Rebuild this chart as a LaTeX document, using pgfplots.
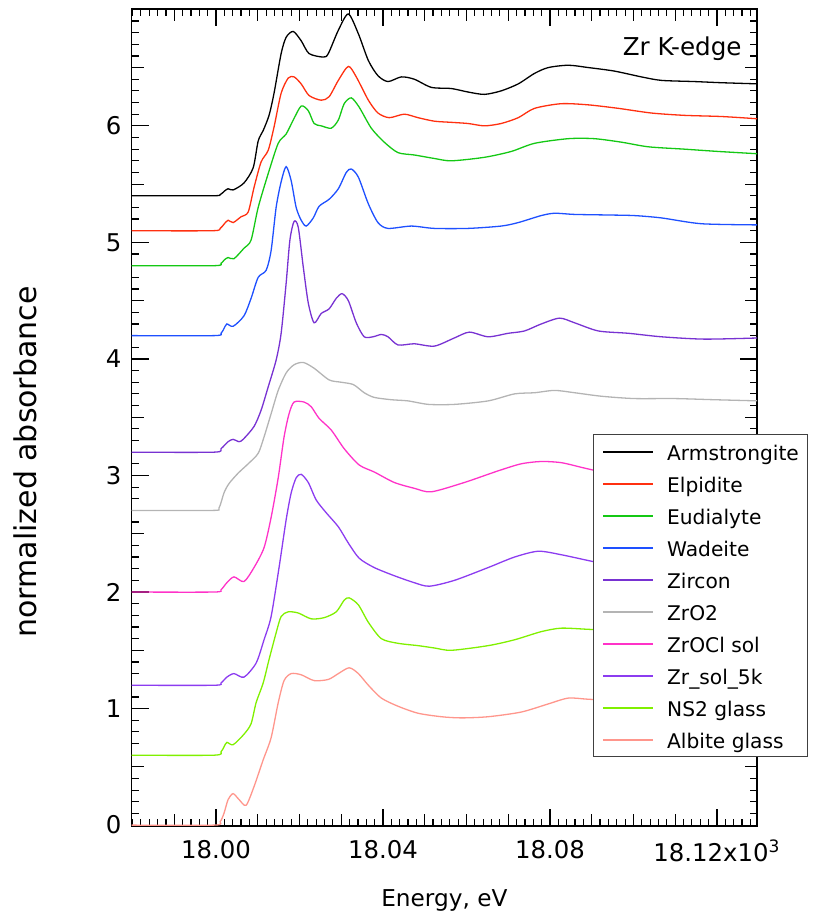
\documentclass[border=0pt]{standalone}
\usepackage{pgfplots}
\pgfplotsset{compat=1.18}
\usepackage{fontspec}
\setmainfont{DejaVu Sans}
\definecolor{celp}{RGB}{255,48,16}
\definecolor{ceud}{RGB}{20,200,20}
\definecolor{cwad}{RGB}{30,80,255}
\definecolor{czir}{RGB}{120,50,210}
\definecolor{czro}{RGB}{180,180,180}
\definecolor{czrocl}{RGB}{255,50,200}
\definecolor{czrsol}{RGB}{140,60,240}
\definecolor{cns}{RGB}{128,240,0}
\definecolor{calb}{RGB}{255,150,140}
\begin{document}
\begin{tikzpicture}
\begin{axis}[
  scale only axis, width=312.65pt, height=408.2pt,
  xmin=17.9798, xmax=18.1296, ymin=-0.005, ymax=7.0,
  /pgf/number format/assume math mode=true,
  tick align=inside, xtick pos=both, ytick pos=both,
  major tick length=8.5pt, minor tick length=3.5pt,
  tick style={black, line width=0.6pt},
  axis line style={black, line width=0.8pt},
  xtick={18.00,18.04,18.08,18.12},
  xticklabels={18.00,18.04,18.08,{18.12x10\textsuperscript{3}}},
  minor xtick={17.98,17.982,...,18.13},
  extra x ticks={17.99,18.01,18.02,18.03,18.05,18.06,18.07,18.09,18.10,18.11},
  extra x tick labels={},
  extra x tick style={major tick length=6pt},
  ytick={0,1,2,3,4,5,6},
  yticklabels={0,1,2,3,4,5,6},
  minor ytick={0,0.1,...,7},
  extra y ticks={0.5,1.5,2.5,3.5,4.5,5.5,6.5},
  extra y tick labels={},
  extra y tick style={major tick length=6pt},
  ticklabel style={font=\fontsize{12.2}{14}\selectfont},
  xticklabel style={inner sep=0pt, anchor=north, yshift=-7pt},
  yticklabel style={inner sep=0pt, anchor=east, xshift=-5pt},
  xlabel={Energy, eV},
  ylabel={normalized absorbance},
  xlabel style={font=\fontsize{11.6}{14}\selectfont, at={(rel axis cs:0.5,-0.091)}, anchor=center},
  ylabel style={font=\fontsize{15}{17}\selectfont, at={(rel axis cs:-0.1706,0.4455)}, anchor=center, rotate=0},
  every axis plot/.append style={line width=0.65pt, smooth, tension=0.45},
  legend cell align=left,
  legend style={at={(rel axis cs:0.737,0.4798)}, anchor=north west, fill=white,
    draw=black!75, line width=0.6pt, font=\fontsize{10.1}{12}\selectfont,
    inner xsep=4.5pt, inner ysep=1.5pt, row sep=2pt,
    nodes={inner sep=0pt, text height=11.5pt, text depth=2.5pt},
    /tikz/every odd column/.append style={column sep=6.5pt}},
  legend image code/.code={\draw[#1, line width=1pt] (0pt,0pt) -- (25pt,0pt);},
]
% Armstrongite
\addplot[black] coordinates {
(17.9796,5.40) (17.9990,5.40) (18.0010,5.41) (18.0020,5.44) (18.0029,5.46) (18.0041,5.45)
(18.0067,5.51) (18.0089,5.64) (18.0101,5.87) (18.0113,5.96) (18.0127,6.09) (18.0139,6.28)
(18.0156,6.62) (18.0168,6.76) (18.0185,6.81) (18.0204,6.73) (18.0223,6.62) (18.0257,6.59)
(18.0269,6.62) (18.0293,6.82) (18.0317,6.96) (18.0341,6.79) (18.0365,6.56) (18.0388,6.43)
(18.0412,6.38) (18.0444,6.42) (18.0475,6.40) (18.0516,6.33) (18.0564,6.32) (18.0604,6.29)
(18.0643,6.27) (18.0683,6.30) (18.0724,6.36) (18.0763,6.45) (18.0796,6.50) (18.0844,6.52)
(18.0892,6.50) (18.0954,6.47) (18.1019,6.42) (18.1067,6.39) (18.1146,6.38) (18.1211,6.37)
(18.1300,6.36)};
\addlegendentry{Armstrongite}
% Elpidite
\addplot[celp] coordinates {
(17.9796,5.10) (17.9990,5.10) (18.0010,5.12) (18.0020,5.16) (18.0029,5.19) (18.0041,5.17)
(18.0060,5.22) (18.0077,5.26) (18.0091,5.47) (18.0108,5.69) (18.0125,5.79) (18.0139,5.99)
(18.0156,6.28) (18.0173,6.41) (18.0187,6.42) (18.0204,6.36) (18.0223,6.26) (18.0252,6.22)
(18.0271,6.25) (18.0293,6.39) (18.0317,6.51) (18.0336,6.42) (18.0365,6.22) (18.0388,6.11)
(18.0415,6.07) (18.0451,6.10) (18.0484,6.07) (18.0523,6.04) (18.0564,6.03) (18.0604,6.02)
(18.0643,6.00) (18.0683,6.02) (18.0724,6.07) (18.0763,6.15) (18.0827,6.19) (18.0892,6.18)
(18.0964,6.15) (18.1043,6.11) (18.1122,6.09) (18.1211,6.08) (18.1300,6.06)};
\addlegendentry{Elpidite}
% Eudialyte
\addplot[ceud] coordinates {
(17.9796,4.80) (17.9995,4.80) (18.0012,4.82) (18.0020,4.85) (18.0029,4.87) (18.0043,4.86)
(18.0067,4.95) (18.0084,5.02) (18.0101,5.30) (18.0125,5.59) (18.0149,5.85) (18.0168,5.93)
(18.0185,6.05) (18.0204,6.17) (18.0221,6.13) (18.0235,6.02) (18.0252,6.00) (18.0276,5.98)
(18.0293,6.05) (18.0307,6.19) (18.0324,6.24) (18.0343,6.16) (18.0372,5.98) (18.0403,5.86)
(18.0436,5.77) (18.0475,5.75) (18.0523,5.72) (18.0564,5.70) (18.0643,5.73) (18.0707,5.78)
(18.0763,5.85) (18.0844,5.89) (18.0906,5.89) (18.0971,5.86) (18.1036,5.82) (18.1122,5.80)
(18.1204,5.78) (18.1300,5.76)};
\addlegendentry{Eudialyte}
% Wadeite
\addplot[cwad] coordinates {
(17.9796,4.20) (17.9995,4.20) (18.0012,4.22) (18.0019,4.26) (18.0026,4.30) (18.0041,4.28)
(18.0067,4.37) (18.0084,4.52) (18.0101,4.70) (18.0120,4.76) (18.0132,4.93) (18.0144,5.30)
(18.0156,5.52) (18.0168,5.65) (18.0180,5.53) (18.0192,5.30) (18.0204,5.19) (18.0216,5.14)
(18.0233,5.21) (18.0247,5.31) (18.0271,5.37) (18.0293,5.46) (18.0312,5.60) (18.0324,5.63)
(18.0341,5.56) (18.0365,5.33) (18.0388,5.17) (18.0412,5.12) (18.0468,5.14) (18.0523,5.12)
(18.0604,5.12) (18.0683,5.14) (18.0724,5.17) (18.0779,5.23) (18.0811,5.25) (18.0859,5.24)
(18.0940,5.235) (18.1002,5.23) (18.1067,5.21) (18.1163,5.16) (18.1300,5.15)};
\addlegendentry{Wadeite}
% Zircon
\addplot[czir] coordinates {
(17.9796,3.20) (17.9995,3.20) (18.0012,3.23) (18.0029,3.29) (18.0041,3.31) (18.0055,3.29)
(18.0065,3.31) (18.0091,3.42) (18.0108,3.56) (18.0125,3.76) (18.0144,3.99) (18.0156,4.22)
(18.0168,4.65) (18.0177,5.02) (18.0187,5.18) (18.0197,5.13) (18.0209,4.79) (18.0221,4.48)
(18.0235,4.31) (18.0252,4.39) (18.0271,4.43) (18.0288,4.52) (18.0302,4.56) (18.0317,4.50)
(18.0336,4.31) (18.0355,4.19) (18.0376,4.19) (18.0396,4.21) (18.0412,4.19) (18.0436,4.12)
(18.0475,4.13) (18.0523,4.11) (18.0571,4.18) (18.0607,4.23) (18.0652,4.19) (18.0700,4.22)
(18.0739,4.24) (18.0779,4.30) (18.0823,4.35) (18.0859,4.31) (18.0916,4.24) (18.0988,4.22)
(18.1067,4.19) (18.1170,4.17) (18.1300,4.18)};
\addlegendentry{Zircon}
% ZrO2
\addplot[czro] coordinates {
(17.9796,2.70) (17.9990,2.70) (18.0007,2.72) (18.0019,2.85) (18.0031,2.93) (18.0053,3.02)
(18.0077,3.10) (18.0101,3.19) (18.0115,3.33) (18.0132,3.53) (18.0149,3.73) (18.0168,3.88)
(18.0187,3.95) (18.0209,3.97) (18.0235,3.92) (18.0271,3.82) (18.0300,3.80) (18.0329,3.78)
(18.0355,3.71) (18.0379,3.67) (18.0420,3.65) (18.0460,3.64) (18.0509,3.61) (18.0571,3.61)
(18.0652,3.64) (18.0715,3.70) (18.0763,3.71) (18.0811,3.73) (18.0859,3.71) (18.0923,3.68)
(18.1002,3.66) (18.1098,3.66) (18.1194,3.65) (18.1300,3.64)};
\addlegendentry{ZrO2}
% ZrOCl sol
\addplot[czrocl] coordinates {
(17.9796,2.00) (17.9995,2.00) (18.0012,2.02) (18.0026,2.08) (18.0043,2.13) (18.0067,2.09)
(18.0091,2.21) (18.0115,2.38) (18.0132,2.64) (18.0149,2.98) (18.0163,3.33) (18.0175,3.53)
(18.0187,3.63) (18.0211,3.63) (18.0228,3.59) (18.0247,3.49) (18.0276,3.39) (18.0307,3.23)
(18.0343,3.09) (18.0379,3.03) (18.0427,2.94) (18.0475,2.89) (18.0516,2.86) (18.0595,2.94)
(18.0676,3.04) (18.0731,3.10) (18.0779,3.12) (18.0827,3.11) (18.0875,3.07) (18.0899,3.05)
(18.0960,3.00) (18.1050,2.95) (18.1150,2.92) (18.1300,2.90)};
\addlegendentry{ZrOCl sol}
% Zr_sol_5k
\addplot[czrsol] coordinates {
(17.9796,1.20) (17.9995,1.20) (18.0012,1.22) (18.0026,1.27) (18.0043,1.30) (18.0067,1.27)
(18.0096,1.39) (18.0115,1.59) (18.0132,1.79) (18.0151,2.21) (18.0168,2.62) (18.0180,2.85)
(18.0192,2.98) (18.0204,3.01) (18.0221,2.94) (18.0240,2.79) (18.0264,2.68) (18.0293,2.56)
(18.0317,2.42) (18.0343,2.29) (18.0379,2.21) (18.0427,2.14) (18.0475,2.08) (18.0511,2.05)
(18.0571,2.10) (18.0652,2.21) (18.0715,2.30) (18.0772,2.35) (18.0827,2.32) (18.0892,2.27)
(18.0960,2.22) (18.1050,2.18) (18.1150,2.15) (18.1300,2.13)};
\addlegendentry{Zr\_sol\_5k}
% NS2 glass
\addplot[cns] coordinates {
(17.9796,0.60) (17.9995,0.60) (18.0012,0.63) (18.0019,0.67) (18.0026,0.71) (18.0041,0.69)
(18.0067,0.78) (18.0084,0.87) (18.0096,1.05) (18.0113,1.22) (18.0127,1.42) (18.0144,1.65)
(18.0156,1.79) (18.0173,1.83) (18.0197,1.82) (18.0228,1.77) (18.0259,1.78) (18.0288,1.83)
(18.0307,1.93) (18.0319,1.95) (18.0341,1.89) (18.0365,1.74) (18.0396,1.60) (18.0436,1.56)
(18.0484,1.54) (18.0523,1.52) (18.0564,1.50) (18.0652,1.54) (18.0715,1.59) (18.0779,1.66)
(18.0827,1.69) (18.0892,1.68) (18.0960,1.67) (18.1050,1.66) (18.1150,1.66) (18.1300,1.65)};
\addlegendentry{NS2 glass}
% Albite glass
\addplot[calb] coordinates {
(17.9796,0.00) (17.9995,0.00) (18.0010,0.03) (18.0019,0.10) (18.0029,0.22) (18.0041,0.27)
(18.0055,0.22) (18.0072,0.17) (18.0091,0.33) (18.0113,0.56) (18.0132,0.75) (18.0149,1.05)
(18.0163,1.24) (18.0180,1.30) (18.0204,1.29) (18.0235,1.24) (18.0269,1.25) (18.0293,1.30)
(18.0319,1.35) (18.0341,1.30) (18.0365,1.20) (18.0396,1.09) (18.0436,1.02) (18.0484,0.96)
(18.0540,0.93) (18.0588,0.92) (18.0652,0.93) (18.0731,0.97) (18.0796,1.04) (18.0844,1.09)
(18.0892,1.08) (18.0960,1.07) (18.1050,1.07) (18.1150,1.07) (18.1300,1.06)};
\addlegendentry{Albite glass}
\node[anchor=base east, font=\fontsize{12.3}{14}\selectfont, inner sep=0pt] at (rel axis cs:0.976,0.9428) {Zr K-edge};
\end{axis}
\pgfresetboundingbox
\path[use as bounding box] (current axis.south west) ++(-65.85pt,-46.65pt) rectangle ++(409.5pt,459.5pt);
\end{tikzpicture}
\end{document}
